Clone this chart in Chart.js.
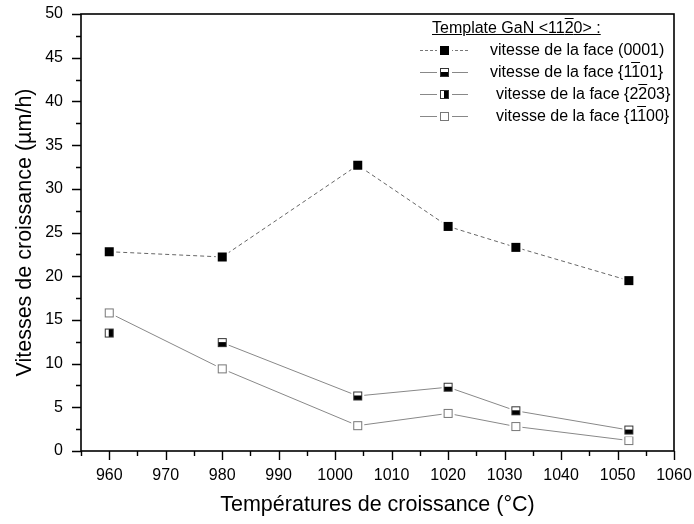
<!DOCTYPE html>
<html lang="fr">
<head>
<meta charset="UTF-8">
<title>Vitesses de croissance</title>
<script src="https://cdn.jsdelivr.net/npm/chart.js@4.4.0/dist/chart.umd.min.js"></script>
<style>
*{box-sizing:border-box;margin:0;padding:0}
body{background:#fff;font-family:"Liberation Sans",Arial,sans-serif;color:#000}
.wrap{position:relative;width:694px;height:524px}
canvas{display:block}
.legend{position:absolute;left:418px;top:17px;font-size:16px;line-height:22px}
.legend .ttl{padding-left:14px;text-decoration:underline}
.ov{text-decoration:overline}
.row{display:flex;align-items:center;height:22px}
.sym{position:relative;width:52px;height:22px;margin-right:20px}
.sym .ln{position:absolute;left:2px;right:2px;top:11px;border-top:1px solid #888}
.sym .ln.dash{border-top:1px dashed #777}
.sym .mk{position:absolute;left:22px;top:7px;width:9px;height:9px;border:1px solid #333;background:#fff;box-shadow:0 0 0 3px #fff}
.mk.full{background:#000;border-color:#000}
.mk.hb{background:linear-gradient(#fff 45%,#000 45%)}
.mk.vr{background:linear-gradient(90deg,#fff 45%,#000 45%)}
.mk.open{border-color:#777}
.row.pad .txt{padding-left:6px}
</style>
</head>
<body>
<div class="wrap">
<canvas id="c" width="694" height="524"></canvas>
<div class="legend">
  <div class="ttl">Template GaN &lt;11<span class="ov">2</span>0&gt; :</div>
  <div class="row"><div class="sym"><div class="ln dash"></div><div class="mk full"></div></div><span class="txt">vitesse de la face (0001)</span></div>
  <div class="row"><div class="sym"><div class="ln"></div><div class="mk hb"></div></div><span class="txt">vitesse de la face {1<span class="ov">1</span>01}</span></div>
  <div class="row pad"><div class="sym"><div class="ln"></div><div class="mk vr"></div></div><span class="txt">vitesse de la face {2<span class="ov">2</span>03}</span></div>
  <div class="row pad"><div class="sym"><div class="ln"></div><div class="mk open"></div></div><span class="txt">vitesse de la face {1<span class="ov">1</span>00}</span></div>
</div>
</div>
<script>
// Données
const temperatures = [960, 980, 1004, 1020, 1032, 1052];
const face0001 = [22.8, 22.2, 32.7, 25.7, 23.3, 19.5];
const face1101 = [null, 12.4, 6.3, 7.3, 4.6, 2.4];
const face2203 = [13.5, null, null, null, null, null];
const face1100 = [15.8, 9.4, 2.9, 4.3, 2.8, 1.2];

const pts = arr => temperatures.map((t, i) => ({ x: t, y: arr[i] })).filter(p => p.y !== null);

// marqueurs carrés façon Origin (avec un petit halo blanc qui coupe la ligne)
function marker(kind) {
  const s = 15, c = document.createElement("canvas");
  c.width = s; c.height = s;
  const g = c.getContext("2d");
  g.fillStyle = "#fff"; g.fillRect(1, 1, s - 2, s - 2);
  const o = 3, w = 9;
  if (kind === "full") { g.fillStyle = "#000"; g.fillRect(o, o, w, w); return c; }
  g.fillStyle = "#fff"; g.fillRect(o, o, w, w);
  g.fillStyle = "#000";
  if (kind === "hb") g.fillRect(o, o + 4, w, w - 4);
  if (kind === "vr") g.fillRect(o + 4, o, w - 4, w);
  g.strokeStyle = kind === "open" ? "#777" : "#333";
  g.lineWidth = 1;
  g.strokeRect(o + 0.5, o + 0.5, w - 1, w - 1);
  return c;
}

const frame = {
  id: "frame",
  afterDraw(chart) {
    const { ctx, chartArea: a, scales: { x, y } } = chart;
    ctx.save();
    ctx.strokeStyle = "#000";
    ctx.lineWidth = 1.6;
    ctx.strokeRect(a.left, a.top, a.right - a.left, a.bottom - a.top);
    ctx.lineWidth = 1.4;
    ctx.beginPath();
    for (let v = 955; v <= 1060; v += 5) {
      const px = Math.round(x.getPixelForValue(v)) + 0.5;
      ctx.moveTo(px, a.bottom);
      ctx.lineTo(px, a.bottom + (v % 10 === 0 ? 9 : 5));
    }
    for (let v = 0; v <= 50; v += 2.5) {
      const py = Math.round(y.getPixelForValue(v)) + 0.5;
      ctx.moveTo(a.left, py);
      ctx.lineTo(a.left - (v % 5 === 0 ? 9 : 5), py);
    }
    ctx.stroke();
    ctx.restore();
  }
};

const noPad = s => { s.paddingTop = 0; s.paddingBottom = 0; s.paddingLeft = 0; s.paddingRight = 0; };
const tickFont = { family: "'Liberation Sans', Arial", size: 16 };
const titleFont = { family: "'Liberation Sans', Arial", size: 21.5 };

new Chart(document.getElementById("c"), {
  type: "line",
  data: {
    datasets: [
      { label: "(0001)", data: pts(face0001), borderColor: "#666", borderWidth: 1, borderDash: [4, 3], pointStyle: marker("full") },
      { label: "{1-101}", data: pts(face1101), borderColor: "#888", borderWidth: 1, pointStyle: marker("hb") },
      { label: "{2-203}", data: pts(face2203), borderColor: "#888", borderWidth: 1, pointStyle: marker("vr") },
      { label: "{1-100}", data: pts(face1100), borderColor: "#888", borderWidth: 1, pointStyle: marker("open") }
    ]
  },
  options: {
    responsive: false,
    animation: false,
    layout: { padding: { top: 14, right: 20, left: 0, bottom: 0 } },
    plugins: { legend: { display: false }, tooltip: { enabled: false } },
    scales: {
      x: {
        type: "linear", min: 955, max: 1060,
        grid: { display: false }, border: { display: false },
        ticks: {
          stepSize: 5, autoSkip: false, maxRotation: 0, padding: 7, color: "#000", font: tickFont,
          callback: v => (v % 10 === 0 && v >= 960) ? v : ""
        },
        title: { display: true, text: "Températures de croissance (°C)", color: "#000", font: titleFont, padding: { top: 0, bottom: 6 } },
        afterFit: s => { s.height = 73; noPad(s); }
      },
      y: {
        min: 0, max: 50,
        grid: { display: false }, border: { display: false },
        ticks: {
          stepSize: 2.5, autoSkip: false, padding: 10, color: "#000", font: tickFont,
          callback: v => (v % 5 === 0) ? v : ""
        },
        title: { display: true, text: "Vitesses de croissance (µm/h)", color: "#000", font: titleFont, padding: { top: 12, bottom: 0 } },
        afterFit: s => { s.width = 81; noPad(s); }
      }
    }
  },
  plugins: [frame]
});
</script>
</body>
</html>
